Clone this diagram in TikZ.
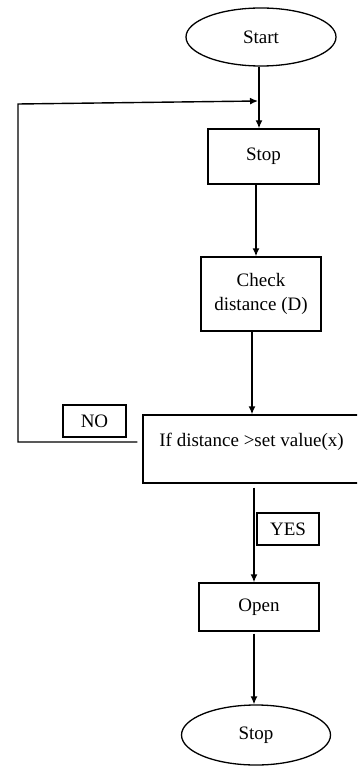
\documentclass[tikz,border=0pt]{standalone}
\usepackage{fontspec}
\setmainfont{Liberation Serif}
\usetikzlibrary{shapes.geometric,arrows.meta}
\tikzset{
  px/.style={x=1pt,y=-1pt},
  every node/.style={font=\fontsize{19}{24}\selectfont, inner sep=0pt},
  boxnode/.style={draw, rectangle, line width=1.4pt},
  ovalnode/.style={draw, ellipse, line width=1.3pt},
  arr/.style={line width=1.4pt, -{Latex[length=8pt,width=7pt]}}
}
\begin{document}
\begin{tikzpicture}[px]
\useasboundingbox (0,0) rectangle (357,767);
\clip (0,0) rectangle (357,767);
\fill[white] (0,0) rectangle (357,767);

\node[ovalnode, minimum width=150, minimum height=58] (start) at (261,37) {Start};
\node[boxnode, minimum width=111, minimum height=55] (stopa) at (263.5,156.5) {Stop};
\node[boxnode, minimum width=120, minimum height=74, align=center] (check) at (261,294) {Check\\distance (D)};
\node[boxnode, minimum width=222, minimum height=68] (ifbox) at (254,449) {};
\node (iftext) at (251.5,442) {If distance >set value(x)};
\node[boxnode, minimum width=63, minimum height=32] (nobox) at (94.5,421) {NO};
\node[boxnode, minimum width=62, minimum height=32] (yesbox) at (288,529) {YES};
\node[boxnode, minimum width=120, minimum height=48] (open) at (259,607) {Open};
\node[ovalnode, minimum width=149, minimum height=60] (stopb) at (256,735) {Stop};

\coordinate (loopend) at (258,101);
\coordinate (loopcorner) at (18,104);

\draw[arr] ([xshift=-2pt]start.south) -- ([xshift=-2pt]start.south |- stopa.north);
\draw[arr] ([xshift=-5pt]ifbox.west |- iftext) -- (loopcorner |- iftext) -- (loopcorner) -- (loopend);
\draw[arr] ([xshift=-7.5pt]stopa.south) -- ([xshift=-7.5pt]stopa.south |- check.north);
\draw[arr] ([xshift=-9pt]check.south) -- ([xshift=-9pt]check.south |- ifbox.north);
\draw[arr] ([yshift=-4pt]ifbox.south) -- (ifbox.south |- open.north);
\draw[arr] ([xshift=-5pt, yshift=-2pt]open.south) -- ([xshift=-5pt]open.south |- stopb.north);
\end{tikzpicture}
\end{document}
